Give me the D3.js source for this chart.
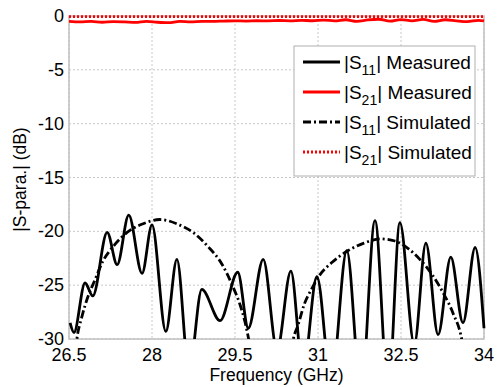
<!DOCTYPE html>
<html>
<head>
<meta charset="utf-8">
<script src="https://cdn.jsdelivr.net/npm/d3@7"></script>
<style>
  body { margin: 0; background: #fff; }
  text { font-family: 'Liberation Sans', Arial, sans-serif; }
</style>
</head>
<body>
<figure id="chart" style="margin:0"></figure>
<script>
// measured |S11| (GHz, dB) - peaks and troughs
const s11MeasFreq = [26.52, 26.59, 26.79, 26.93, 27.19, 27.37, 27.58, 27.82, 28.0, 28.25, 28.45, 28.67, 28.9, 29.23,
  29.55, 29.74, 30.01, 30.26, 30.51, 30.73, 30.98, 31.24, 31.52, 31.78, 32.03, 32.27, 32.48, 32.74, 32.95, 33.17,
  33.4, 33.62, 33.84, 34.0];
const s11MeasDb = [-28.5, -29.4, -24.8, -26.0, -20.1, -23.1, -18.5, -23.9, -19.4, -29.3, -22.6, -33, -25.4, -28.3,
  -23.8, -29.0, -22.6, -31, -23.7, -33, -24.2, -34, -21.8, -35, -19.0, -35, -19.2, -30.5, -21.1, -29.6,
  -22.4, -28.5, -21.5, -29.0];

// simulated |S11|, two arcs
const s11SimFreq = [26.62, 26.64, 26.73, 26.84, 26.97, 27.11, 27.3, 27.55, 27.84, 28.14, 28.45, 28.74, 29.01, 29.27,
  29.45, 29.59, 29.68, 29.75, 29.78, null,
  30.52, 30.55, 30.64, 30.75, 30.89, 31.04, 31.25, 31.54, 31.83, 32.12, 32.39, 32.63, 32.84, 33.06, 33.26, 33.44,
  33.6, 33.63];
const s11SimDb = [-31, -30.1, -28.0, -26.1, -24.5, -22.8, -21.4, -20.1, -19.3, -18.9, -19.3, -20.1, -21.4, -23.1,
  -25.0, -26.8, -28.4, -30.1, -31, null,
  -31, -30.1, -28.7, -26.8, -25.3, -24.0, -22.9, -21.8, -21.1, -20.7, -20.9, -21.6, -22.6, -24.0, -25.7, -27.6,
  -30.1, -31];

// measured |S21|
const s21MeasFreq = [26.5, 26.7, 26.9, 27.1, 27.3, 27.5, 27.7, 27.9, 28.1, 28.3, 28.5, 28.7, 28.9, 29.1, 29.3, 29.5,
  29.7, 29.9, 30.1, 30.3, 30.5, 30.7, 30.9, 31.1, 31.3, 31.5, 31.7, 31.9, 32.1, 32.3, 32.5, 32.7, 32.9, 33.1, 33.3,
  33.5, 33.7, 33.9, 34.0];
const s21MeasDb = [-0.5, -0.55, -0.5, -0.58, -0.52, -0.55, -0.6, -0.5, -0.58, -0.62, -0.5, -0.55, -0.5, -0.5, -0.47,
  -0.45, -0.47, -0.44, -0.45, -0.42, -0.45, -0.4, -0.44, -0.38, -0.45, -0.35, -0.5, -0.36, -0.3, -0.48, -0.33,
  -0.45, -0.32, -0.5, -0.35, -0.45, -0.52, -0.4, -0.45];

// simulated |S21|
const s21SimFreq = [26.5, 28, 29.5, 31, 32.5, 34];
const s21SimDb = [-0.05, -0.05, -0.05, -0.05, -0.05, -0.05];

const xTicks = [26.5, 28, 29.5, 31, 32.5, 34];
const yTicks = [0, -5, -10, -15, -20, -25, -30];
const legendLabels = [
  { sub: '11', word: 'Measured' },
  { sub: '21', word: 'Measured' },
  { sub: '11', word: 'Simulated' },
  { sub: '21', word: 'Simulated' }
];

const width = 497;
const height = 387;
const margin = { top: 16, right: 13, bottom: 48, left: 69 };
const lineW = 2.8;

const svg = d3.select('figure#chart')
  .append('svg')
  .attr('width', width)
  .attr('height', height);

const x = d3.scaleLinear()
  .domain([26.5, 34])
  .range([margin.left, width - margin.right]);

const y = d3.scaleLinear()
  .domain([-30, 0])
  .range([height - margin.bottom, margin.top]);

// grid
svg.append('g')
  .selectAll('line')
  .data(xTicks)
  .join('line')
  .attr('x1', d => x(d)).attr('x2', d => x(d))
  .attr('y1', y(0)).attr('y2', y(-30))
  .attr('stroke', '#c8c8c8')
  .attr('stroke-dasharray', '2,2');

svg.append('g')
  .selectAll('line')
  .data(yTicks)
  .join('line')
  .attr('y1', d => y(d)).attr('y2', d => y(d))
  .attr('x1', x(26.5)).attr('x2', x(34))
  .attr('stroke', '#c8c8c8')
  .attr('stroke-dasharray', '2,2');

// frame
svg.append('rect')
  .attr('x', x(26.5)).attr('y', y(0))
  .attr('width', x(34) - x(26.5))
  .attr('height', y(-30) - y(0))
  .attr('fill', 'none')
  .attr('stroke', '#c0c0c0')
  .attr('stroke-width', 1.5);

svg.append('clipPath').attr('id', 'clip')
  .append('rect')
  .attr('x', x(26.5) - 2).attr('y', y(0) - 4)
  .attr('width', x(34) - x(26.5) + 4)
  .attr('height', y(-30) - y(0) + 4);

const plot = svg.append('g').attr('clip-path', 'url(#clip)');

const zip = (fs, vs) => fs.map((f, i) => ({ f, v: vs[i] }));

const smooth = d3.line()
  .defined(d => d.f !== null)
  .x(d => x(d.f))
  .y(d => y(d.v))
  .curve(d3.curveMonotoneX);

plot.append('path')
  .attr('d', smooth(zip(s21SimFreq, s21SimDb)))
  .attr('fill', 'none')
  .attr('stroke', '#ff0000')
  .attr('stroke-width', lineW)
  .attr('stroke-dasharray', '2,2');

plot.append('path')
  .attr('d', smooth(zip(s21MeasFreq, s21MeasDb)))
  .attr('fill', 'none')
  .attr('stroke', '#ff0000')
  .attr('stroke-width', lineW);

plot.append('path')
  .attr('d', smooth(zip(s11MeasFreq, s11MeasDb)))
  .attr('fill', 'none')
  .attr('stroke', '#000')
  .attr('stroke-width', lineW);

plot.append('path')
  .attr('d', smooth(zip(s11SimFreq, s11SimDb)))
  .attr('fill', 'none')
  .attr('stroke', '#000')
  .attr('stroke-width', lineW)
  .attr('stroke-dasharray', '8,3,2,3');

// tick labels
svg.append('g')
  .attr('font-size', 18)
  .attr('text-anchor', 'middle')
  .selectAll('text')
  .data(xTicks)
  .join('text')
  .attr('x', d => x(d))
  .attr('y', y(-30) + 22)
  .text(d => d);

svg.append('g')
  .attr('font-size', 18)
  .attr('text-anchor', 'end')
  .selectAll('text')
  .data(yTicks)
  .join('text')
  .attr('x', x(26.5) - 5)
  .attr('y', d => y(d) + 6)
  .text(d => d);

svg.append('text')
  .attr('x', (x(26.5) + x(34)) / 2)
  .attr('y', 381)
  .attr('text-anchor', 'middle')
  .attr('font-size', 17.5)
  .text('Frequency (GHz)');

svg.append('text')
  .attr('transform', `translate(26,${(y(0) + y(-30)) / 2 + 2}) rotate(-90)`)
  .attr('text-anchor', 'middle')
  .attr('font-size', 17.5)
  .text('|S-para.| (dB)');

// legend
const legend = svg.append('g');
legend.append('rect')
  .attr('x', 294).attr('y', 46)
  .attr('width', 181).attr('height', 130)
  .attr('fill', '#fff')
  .attr('stroke', '#b0b0b0');

const styles = [
  { color: '#000', dash: null },
  { color: '#ff0000', dash: null },
  { color: '#000', dash: '8,3,2,3' },
  { color: '#ff0000', dash: '2,2' }
];

const entry = legend.selectAll('g')
  .data(legendLabels)
  .join('g')
  .attr('transform', (d, i) => `translate(0,${62 + i * 30})`);

entry.append('line')
  .attr('x1', 303).attr('x2', 340)
  .attr('stroke', (d, i) => styles[i].color)
  .attr('stroke-dasharray', (d, i) => styles[i].dash)
  .attr('stroke-width', lineW);

const label = entry.append('text')
  .attr('x', 344)
  .attr('y', 7)
  .attr('font-size', 19);
label.append('tspan').text('|S');
label.append('tspan').attr('font-size', 14).attr('dy', 6).text(d => d.sub);
label.append('tspan').attr('dy', -6).text(d => '| ' + d.word);
</script>
</body>
</html>
